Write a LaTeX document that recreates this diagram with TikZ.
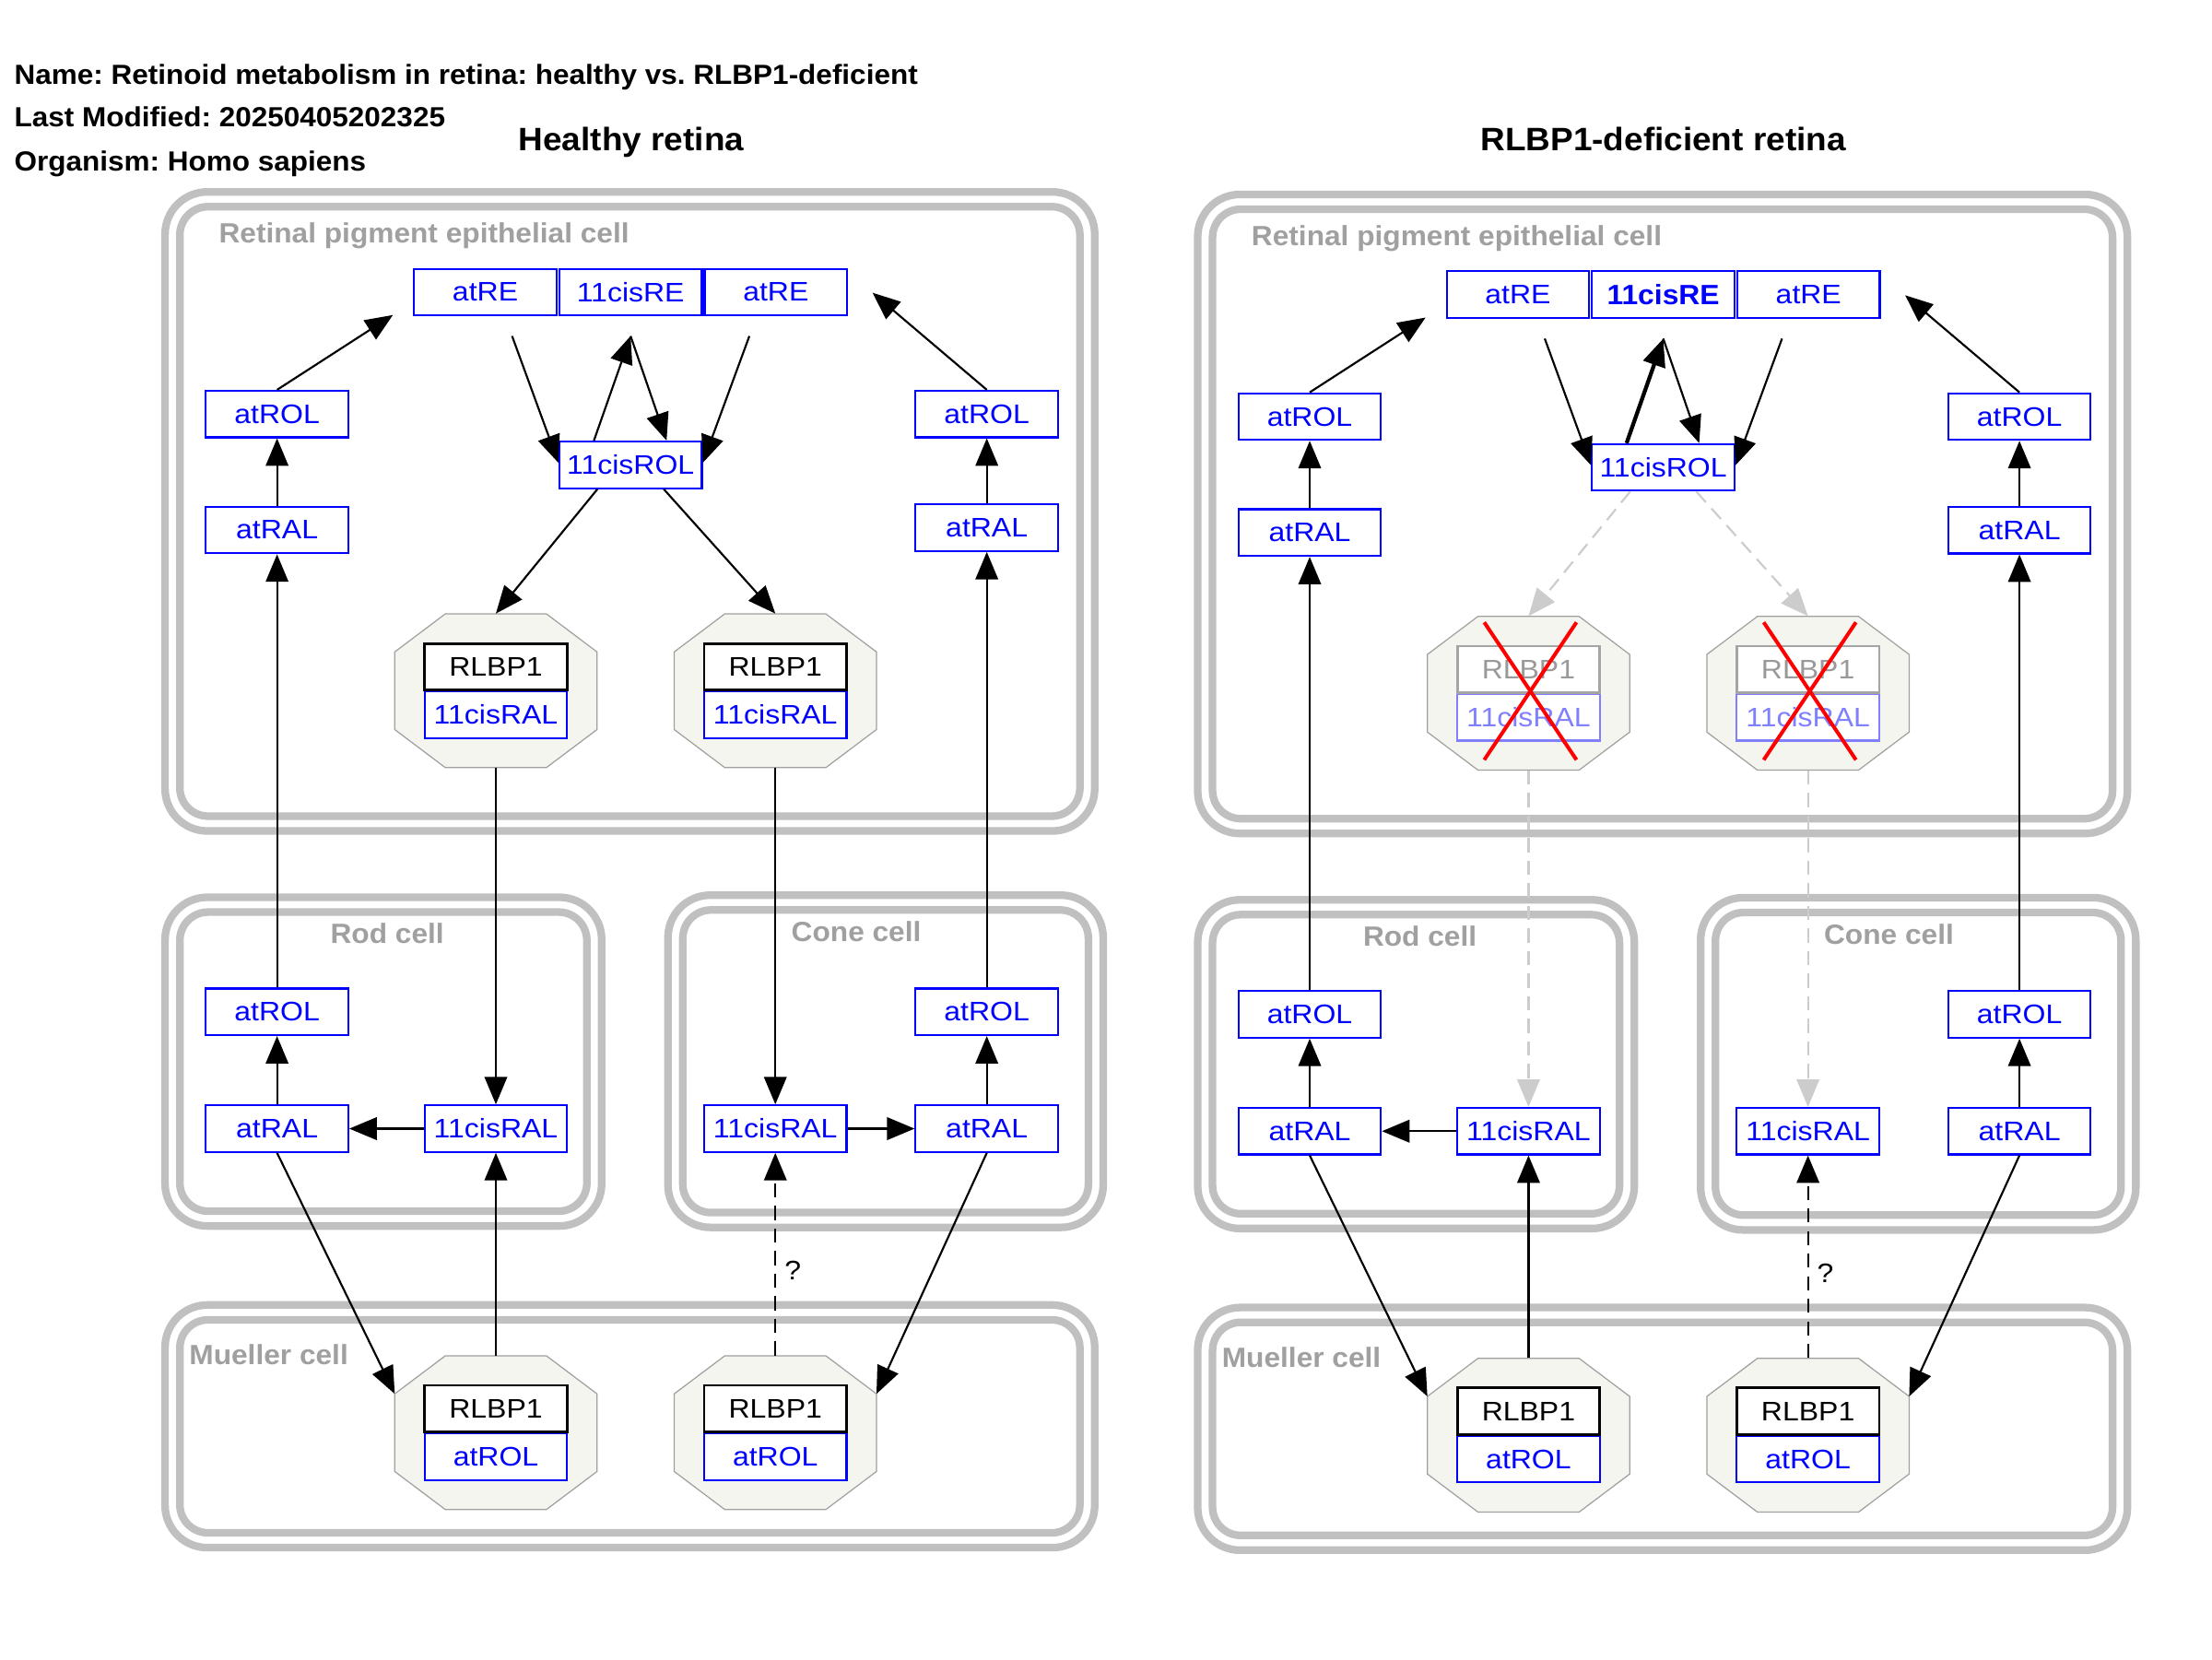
\documentclass[tikz,border=0pt]{standalone}
\usepackage{fontspec}
\setmainfont{Liberation Sans}
\newfontfamily\nodefam{Liberation Sans}[FakeStretch=1.1]
\newfontfamily\boldfam{Liberation Sans}[FakeStretch=1.05]
\frenchspacing
\usetikzlibrary{arrows.meta}
\definecolor{molblue}{RGB}{0,0,255}
\definecolor{fadeblue}{RGB}{128,128,255}
\definecolor{cmpgray}{RGB}{192,192,192}
\definecolor{labgray}{RGB}{160,160,160}
\definecolor{octfill}{RGB}{245,245,239}
\definecolor{octline}{RGB}{160,160,160}
\definecolor{fadegray}{RGB}{204,204,204}
\definecolor{protgray}{RGB}{165,165,165}
\definecolor{fadetext}{RGB}{153,153,153}
\definecolor{xred}{RGB}{255,0,0}

\tikzset{
  cmpo/.style={draw=cmpgray, line width=5.4pt, rounded corners=30pt},
  cmpi/.style={draw=cmpgray, line width=5.4pt, rounded corners=20pt},
  cmplab/.style={text=labgray, font=\boldfam\bfseries\fontsize{19.7}{22}\selectfont, inner sep=0pt},
  titletext/.style={text=black, font=\boldfam\bfseries\fontsize{19.6}{22}\selectfont, inner sep=0pt, anchor=base west},
  headtext/.style={text=black, font=\boldfam\bfseries\fontsize{23}{26}\selectfont, inner sep=0pt, anchor=base},
  mol/.style={rectangle, draw=molblue, line width=1.4pt, fill=white, text=molblue,
    minimum width=101pt, minimum height=33pt, inner sep=0pt,
    font=\nodefam\fontsize{19}{22}\selectfont},
  prot/.style={mol, draw=black, text=black, line width=1.8pt},
  octbox/.style={rectangle, minimum width=143.4pt, minimum height=109pt, inner sep=0pt},
  octsh/.style={fill=octfill, draw=octline, line width=0.8pt},
  arr/.style={draw=black, line width=1.4pt, -{Triangle[length=19.5pt,width=16pt]}},
  garr/.style={arr, draw=fadegray, dash pattern=on 10pt off 6pt},
  qarr/.style={arr, dash pattern=on 10pt off 6pt},
  qlab/.style={inner sep=0pt, text=black, font=\nodefam\fontsize{19}{22}\selectfont},
  redx/.style={draw=xred, line width=2.6pt},
  h-re/.style={},
  d-re/.style={font=\boldfam\bfseries\fontsize{19.8}{22}\selectfont},
  h-thick/.style={arr},
  d-thick/.style={arr, line width=2.8pt},
  h-en/.style={arr},
  d-en/.style={garr},
  h-rl/.style={},
  d-rl/.style={draw=protgray, text=fadetext},
  h-cr/.style={},
  d-cr/.style={draw=fadeblue, text=fadeblue},
}

% octagonal complex: #1 name, #2 x, #3 y, #4 style of RLBP1 box, #5 style of lower box, #6 lower text
\newcommand{\octcell}[6]{%
  \node[octbox] (#1) at ({#2},{#3}) {};
  \filldraw[octsh] ({#2-35.8},{#3-54.5}) -- ({#2+35.8},{#3-54.5}) -- ({#2+71.7},{#3-27.5})
    -- ({#2+71.7},{#3+27.5}) -- ({#2+35.8},{#3+54.5}) -- ({#2-35.8},{#3+54.5})
    -- ({#2-71.7},{#3+27.5}) -- ({#2-71.7},{#3-27.5}) -- cycle;
  \coordinate (#1-tl) at ({#2-71.7},{#3-27.5});
  \coordinate (#1-tr) at ({#2+71.7},{#3-27.5});
  \node[mol, #5] (#1-b) at ({#2},{#3+17}) {#6};
  \node[prot, #4] (#1-t) at ({#2},{#3-17}) {RLBP1};
}

% one panel: #1 prefix, #2 dx, #3 dy, #4 deficient flag
\newcommand{\retpanel}[4]{%
  % compartments
  \draw[cmpo] ({#2+117},{#3+136}) rectangle ({#2+776},{#3+589});
  \draw[cmpi] ({#2+127.5},{#3+146.5}) rectangle ({#2+765.5},{#3+578.5});
  \draw[cmpo] ({#2+117},{#3+636}) rectangle ({#2+426.5},{#3+869});
  \draw[cmpi] ({#2+127.5},{#3+646.5}) rectangle ({#2+416},{#3+858.5});
  \draw[cmpo] ({#2+473.5},{#3+634.5}) rectangle ({#2+782},{#3+870});
  \draw[cmpi] ({#2+484},{#3+645}) rectangle ({#2+771.5},{#3+859.5});
  \draw[cmpo] ({#2+117},{#3+925}) rectangle ({#2+776},{#3+1097});
  \draw[cmpi] ({#2+127.5},{#3+935.5}) rectangle ({#2+765.5},{#3+1086.5});
  \node[cmplab, anchor=base west] (#1Lrpe) at ({#2+155},{#3+172}) {Retinal pigment epithelial cell};
  \node[cmplab, anchor=base] (#1Lrod) at ({#2+274.5},{#3+669}) {Rod cell};
  \node[cmplab, anchor=base] (#1Lcone) at ({#2+607},{#3+667.5}) {Cone cell};
  \node[cmplab, anchor=base west] (#1Lmul) at ({#2+134},{#3+967.3}) {Mueller cell};
  % RPE
  \node[mol] (#1REa) at ({#2+344},{#3+207}) {atRE};
  \node[mol, #1-re] (#1REb) at ({#2+447},{#3+207}) {11cisRE};
  \node[mol] (#1REc) at ({#2+550},{#3+207}) {atRE};
  \node[mol] (#1cROL) at ({#2+447},{#3+329.5}) {11cisROL};
  \node[mol] (#1ROLa) at ({#2+196.4},{#3+293.5}) {atROL};
  \node[mol] (#1RALa) at ({#2+196.4},{#3+375.7}) {atRAL};
  \node[mol] (#1ROLb) at ({#2+699.5},{#3+293.5}) {atROL};
  \node[mol] (#1RALb) at ({#2+699.5},{#3+374}) {atRAL};
  \octcell{#1oA}{#2+351.5}{#3+489.6}{#1-rl}{#1-cr}{11cisRAL}
  \octcell{#1oB}{#2+549.6}{#3+489.6}{#1-rl}{#1-cr}{11cisRAL}
  % rod and cone
  \node[mol] (#1rROL) at ({#2+196.4},{#3+717.2}) {atROL};
  \node[mol] (#1rRAL) at ({#2+196.4},{#3+800}) {atRAL};
  \node[mol] (#1rcRAL) at ({#2+351.5},{#3+800}) {11cisRAL};
  \node[mol] (#1kcRAL) at ({#2+549.6},{#3+800}) {11cisRAL};
  \node[mol] (#1kRAL) at ({#2+699.5},{#3+800}) {atRAL};
  \node[mol] (#1kROL) at ({#2+699.5},{#3+717.2}) {atROL};
  % Mueller
  \octcell{#1mA}{#2+351.5}{#3+1015.5}{}{}{atROL}
  \octcell{#1mB}{#2+549.6}{#3+1015.5}{}{}{atROL}
  % free ends round the retinyl ester complex
  \coordinate (#1g1) at ({#2+278.5},{#3+223.3});
  \coordinate (#1g2) at ({#2+618.5},{#3+207.5});
  \coordinate (#1g3) at ({#2+363},{#3+238.2});
  \coordinate (#1g4) at ({#2+447},{#3+238.2});
  \coordinate (#1g5) at ({#2+531.2},{#3+238.2});
  % connectors
  \draw[arr] (#1ROLa.north) -- (#1g1);
  \draw[arr] (#1RALa.north) -- (#1ROLa.south);
  \draw[arr] (#1ROLb.north) -- (#1g2);
  \draw[arr] (#1RALb.north) -- (#1ROLb.south);
  \draw[arr] (#1g3) -- ([yshift=1.5pt]#1cROL.west);
  \draw[#1-thick] ([xshift=-26pt]#1cROL.north) -- (#1g4);
  \draw[arr] (#1g4) -- ([xshift=25.5pt]#1cROL.north);
  \draw[arr] (#1g5) -- ([yshift=1.5pt]#1cROL.east);
  \draw[#1-en] ([xshift=-23.5pt]#1cROL.south) -- (#1oA.north);
  \draw[#1-en] ([xshift=23.5pt]#1cROL.south) -- (#1oB.north);
  \draw[#1-en] (#1oA.south) -- (#1rcRAL.north);
  \draw[#1-en] (#1oB.south) -- (#1kcRAL.north);
  \draw[arr] (#1rROL.north) -- (#1RALa.south);
  \draw[arr] (#1kROL.north) -- (#1RALb.south);
  \draw[arr] (#1rRAL.north) -- (#1rROL.south);
  \draw[arr] (#1rcRAL.west) -- (#1rRAL.east);
  \ifnum#4=0 \draw[arr] (#1kcRAL.east) -- (#1kRAL.west);\fi
  \draw[arr] (#1kRAL.north) -- (#1kROL.south);
  \draw[arr] (#1rRAL.south) -- (#1mA-tl);
  \draw[arr] (#1mA.north) -- (#1rcRAL.south);
  \draw[qarr] (#1mB.north) -- (#1kcRAL.south);
  \node[qlab] (#1q) at ({#2+562},{#3+900.5}) {?};
  \draw[arr] (#1kRAL.south) -- (#1mB-tr);
  \ifnum#4=1
    \draw[redx] ([xshift=-31.4pt,yshift=50.3pt]#1oA.center) -- ([xshift=34pt,yshift=-47.2pt]#1oA.center);
    \draw[redx] ([xshift=34pt,yshift=50.3pt]#1oA.center) -- ([xshift=-31.4pt,yshift=-47.2pt]#1oA.center);
    \draw[redx] ([xshift=-31.4pt,yshift=50.3pt]#1oB.center) -- ([xshift=34pt,yshift=-47.2pt]#1oB.center);
    \draw[redx] ([xshift=34pt,yshift=50.3pt]#1oB.center) -- ([xshift=-31.4pt,yshift=-47.2pt]#1oB.center);
  \fi
}

\begin{document}
\begin{tikzpicture}[x=1pt,y=-1pt]
  \useasboundingbox (0,0) rectangle (1568,1176);
  \fill[white] (0,0) rectangle (1568,1176);
  \node[titletext] (t1) at (10,59.5) {Name: Retinoid metabolism in retina: healthy vs. RLBP1-deficient};
  \node[titletext] (t2) at (10,90) {Last Modified: 20250405202325};
  \node[titletext] (t3) at (10,121.3) {Organism: Homo sapiens};
  \node[headtext] (hh) at (447.5,107) {Healthy retina};
  \node[headtext] (dh) at (1179,107) {RLBP1-deficient retina};
  \retpanel{h}{0}{0}{0}
  \retpanel{d}{732}{1.8}{1}
\end{tikzpicture}
\end{document}
